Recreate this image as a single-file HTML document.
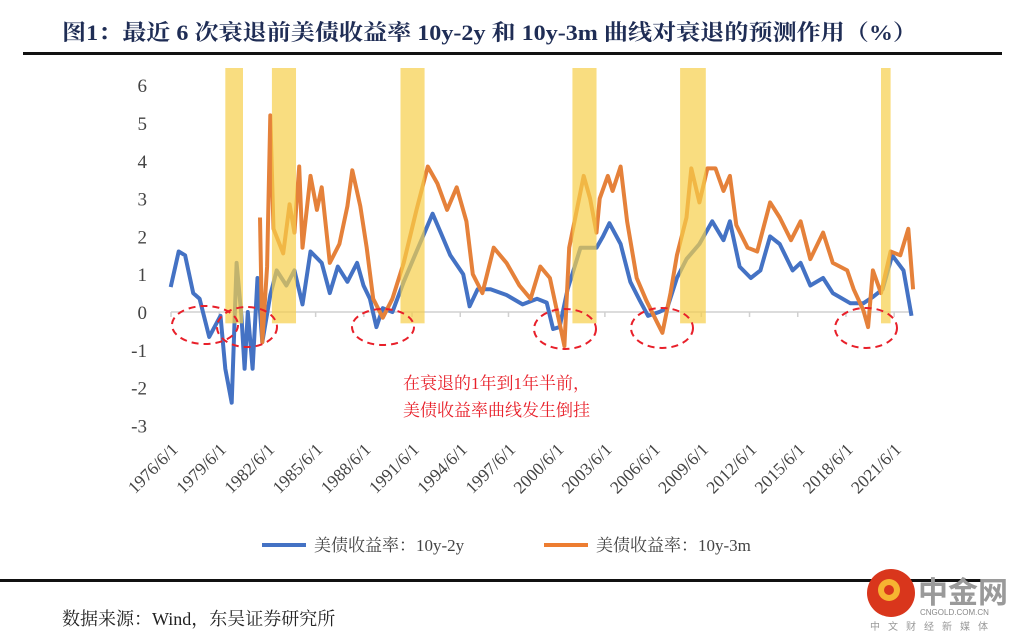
<!DOCTYPE html>
<html><head><meta charset="utf-8"><style>
body{margin:0;background:#fff;width:1024px;height:642px;overflow:hidden;font-family:"Liberation Serif","Noto Serif CJK SC",serif;}
svg{display:block}
</style></head><body>
<svg id="chart" width="1024" height="642" xmlns="http://www.w3.org/2000/svg">
<text x="62" y="40" font-size="22" font-weight="bold" fill="#1f2d55" textLength="855" lengthAdjust="spacingAndGlyphs" font-family="Liberation Serif, Noto Serif CJK SC, serif">图1：最近 6 次衰退前美债收益率 10y-2y 和 10y-3m 曲线对衰退的预测作用（%）</text>
<rect x="23" y="52" width="979" height="3" fill="#111"/>
<g id="plot"></g>
<text x="403" y="389" font-size="17" fill="#e8202a" font-family="Liberation Serif, Noto Serif CJK SC, serif">在衰退的1年到1年半前，</text>
<text x="403" y="416" font-size="17" fill="#e8202a" font-family="Liberation Serif, Noto Serif CJK SC, serif">美债收益率曲线发生倒挂</text>
<g>
<line x1="262" y1="545" x2="306" y2="545" stroke="#4472c4" stroke-width="4"/>
<text x="314" y="551" font-size="17" fill="#444" font-family="Liberation Serif, Noto Serif CJK SC, serif">美债收益率：10y-2y</text>
<line x1="544" y1="545" x2="588" y2="545" stroke="#ed7d31" stroke-width="4"/>
<text x="596" y="551" font-size="17" fill="#444" font-family="Liberation Serif, Noto Serif CJK SC, serif">美债收益率：10y-3m</text>
</g>
<rect x="0" y="579" width="985" height="3" fill="#111"/>
<text x="62" y="625" font-size="18" fill="#222" font-family="Liberation Serif, Noto Serif CJK SC, serif">数据来源：Wind，东吴证券研究所</text>
<g>
<circle cx="891" cy="593" r="24" fill="#d9361c"/>
<circle cx="889" cy="590" r="11" fill="#f6b431"/>
<circle cx="889" cy="590" r="5" fill="#d9361c"/>
<text x="918" y="603" font-size="30" font-weight="bold" fill="#9a9a9a" font-family="Noto Sans CJK SC, sans-serif">中金网</text>
<text x="920" y="615" font-size="8" fill="#888" font-family="Liberation Sans, sans-serif">CNGOLD.COM.CN</text>
<text x="870" y="630" font-size="10" fill="#999" letter-spacing="8" font-family="Noto Sans CJK SC, sans-serif">中文财经新媒体</text>
</g>
</svg>
<script>
const yTicks=[6,5,4,3,2,1,0,-1,-2,-3];
const xTickLabels=["1976/6/1","1979/6/1","1982/6/1","1985/6/1","1988/6/1","1991/6/1","1994/6/1","1997/6/1","2000/6/1","2003/6/1","2006/6/1","2009/6/1","2012/6/1","2015/6/1","2018/6/1","2021/6/1"];
const xTickYears=[1976.42,1979.42,1982.42,1985.42,1988.42,1991.42,1994.42,1997.42,2000.42,2003.42,2006.42,2009.42,2012.42,2015.42,2018.42,2021.42];
const recessionStart=[1979.8,1982.7,1990.7,2001.4,2008.1,2020.6];
const recessionEnd=[1980.9,1984.2,1992.2,2002.9,2009.7,2021.2];
const s2yYears=[1976.4,1976.9,1977.3,1977.8,1978.2,1978.8,1979.5,1979.8,1980.2,1980.5,1980.8,1981.0,1981.2,1981.5,1981.8,1982.1,1982.6,1983.0,1983.6,1984.1,1984.6,1985.1,1985.8,1986.3,1986.8,1987.4,1988.0,1988.4,1988.8,1989.2,1989.6,1990.2,1990.9,1991.7,1992.2,1992.7,1993.2,1993.8,1994.6,1995.0,1995.5,1996.3,1997.3,1998.3,1999.2,1999.8,2000.2,2000.6,2001.1,2001.9,2002.9,2003.3,2003.7,2004.4,2005.0,2005.6,2006.1,2006.8,2007.3,2007.9,2008.5,2009.3,2010.1,2010.8,2011.2,2011.8,2012.5,2013.1,2013.7,2014.3,2015.1,2015.6,2016.2,2017.0,2017.6,2018.7,2019.5,2020.1,2020.7,2021.3,2022.0,2022.5];
const s2yValues=[0.66,1.6,1.5,0.5,0.35,-0.66,-0.1,-1.5,-2.4,1.3,-0.1,-1.5,0,-1.5,0.9,-0.8,0.45,1.1,0.7,1.1,0.2,1.6,1.3,0.5,1.2,0.8,1.3,0.7,0.35,-0.4,0.1,0,0.8,1.6,2.1,2.6,2.1,1.5,1.0,0.15,0.6,0.6,0.45,0.2,0.35,0.25,-0.45,-0.4,0.6,1.7,1.7,2.0,2.35,1.8,0.8,0.3,-0.1,0,0.1,0.9,1.4,1.8,2.4,1.9,2.4,1.2,0.9,1.1,2.0,1.8,1.1,1.3,0.7,0.9,0.5,0.23,0.23,0.4,0.6,1.5,1.1,-0.1];
const s3mYears=[1981.96,1982.1,1982.4,1982.6,1982.8,1983.4,1983.8,1984.1,1984.4,1984.6,1985.1,1985.5,1985.8,1986.3,1986.9,1987.4,1987.7,1988.2,1988.6,1989.0,1989.6,1990.2,1990.9,1991.7,1992.4,1993.0,1993.6,1994.2,1994.8,1995.2,1995.8,1996.5,1997.3,1998.1,1998.8,1999.4,2000.0,2000.6,2000.9,2001.2,2002.1,2002.5,2002.9,2003.1,2003.6,2003.9,2004.4,2004.8,2005.4,2006.0,2006.7,2007.0,2007.5,2007.9,2008.5,2008.8,2009.3,2009.8,2010.3,2010.8,2011.2,2011.6,2012.3,2012.9,2013.7,2014.3,2015.0,2015.6,2016.2,2017.0,2017.6,2018.5,2018.9,2019.5,2019.8,2020.1,2020.6,2021.2,2021.8,2022.3,2022.6];
const s3mValues=[2.5,-0.8,1.2,5.2,2.2,1.55,2.85,2.1,3.85,1.7,3.6,2.7,3.3,1.3,1.8,2.8,3.75,2.8,1.7,0.35,-0.15,0.35,1.3,2.7,3.85,3.4,2.7,3.3,2.4,1.0,0.5,1.7,1.3,0.7,0.35,1.2,0.9,-0.3,-0.9,1.7,3.6,3.0,2.1,3.0,3.6,3.2,3.85,2.4,0.9,0.3,-0.3,-0.55,0.5,1.5,2.5,3.8,2.9,3.8,3.8,3.2,3.6,2.3,1.7,1.6,2.9,2.5,1.9,2.4,1.4,2.1,1.3,1.1,0.6,0.05,-0.4,1.1,0.5,1.6,1.5,2.2,0.6];

const NS="http://www.w3.org/2000/svg";
const plot=document.getElementById('plot');
const X0=171,YR0=1976.42,PXY=16.07,Y0=312,PXU=37.8;
function xs(yr){return X0+(yr-YR0)*PXY;}
function ys(v){return Y0-v*PXU;}
function mk(tag,attrs,parent){const e=document.createElementNS(NS,tag);for(const k in attrs)e.setAttribute(k,attrs[k]);(parent||plot).appendChild(e);return e;}

yTicks.forEach(v=>{
  const t=mk('text',{x:147,y:ys(v)+7,'font-size':19,fill:'#444','text-anchor':'end','font-family':'Liberation Serif, serif'});
  t.textContent=(v<0?'-'+Math.abs(v):v);
  
  
});
const axis=mk('line',{x1:xs(YR0),y1:Y0,x2:xs(2022.6),y2:Y0,stroke:'#d0d0d0','stroke-width':1.5});


xTickYears.forEach((yr,i)=>{
  const tk=mk('line',{x1:xs(yr),y1:Y0,x2:xs(yr),y2:Y0+5,stroke:'#d0d0d0','stroke-width':1.5});
  
  
  const x=xs(yr)+8,y=ys(-3.4)+10;
  const t=mk('text',{x:x,y:y,'font-size':17.5,fill:'#444','text-anchor':'end','font-family':'Liberation Serif, serif',transform:`rotate(-45 ${x} ${y})`});
  t.textContent=xTickLabels[i];
  
  
});
function line(years,vals,color,name){
  const d=years.map((yr,i)=>(i?'L':'M')+xs(yr).toFixed(1)+','+ys(vals[i]).toFixed(1)).join(' ');
  const p=mk('path',{d:d,fill:'none',stroke:color,'stroke-width':4,'stroke-linejoin':'round'});
  
  
}
line(s2yYears,s2yValues,'#4472c4','series-10y-2y');
line(s3mYears,s3mValues,'#e5813a','series-10y-3m');
recessionStart.forEach((s,i)=>{
  const r=mk('rect',{x:xs(s),y:68,width:xs(recessionEnd[i])-xs(s),height:ys(-0.3)-68,fill:'#f7cf4a','fill-opacity':0.7});
  
  
});
const ellipses=[[205,325,33,19],[247,327,30,20],[383,327,31,18],[565,329,31,20],[662,328,31,20],[866,328,31,20]];
ellipses.forEach(e=>{
  const el=mk('ellipse',{cx:e[0],cy:e[1],rx:e[2],ry:e[3],fill:'none',stroke:'#e8202a','stroke-width':2,'stroke-dasharray':'7,5'});
  
  
});
</script>
</body></html>
